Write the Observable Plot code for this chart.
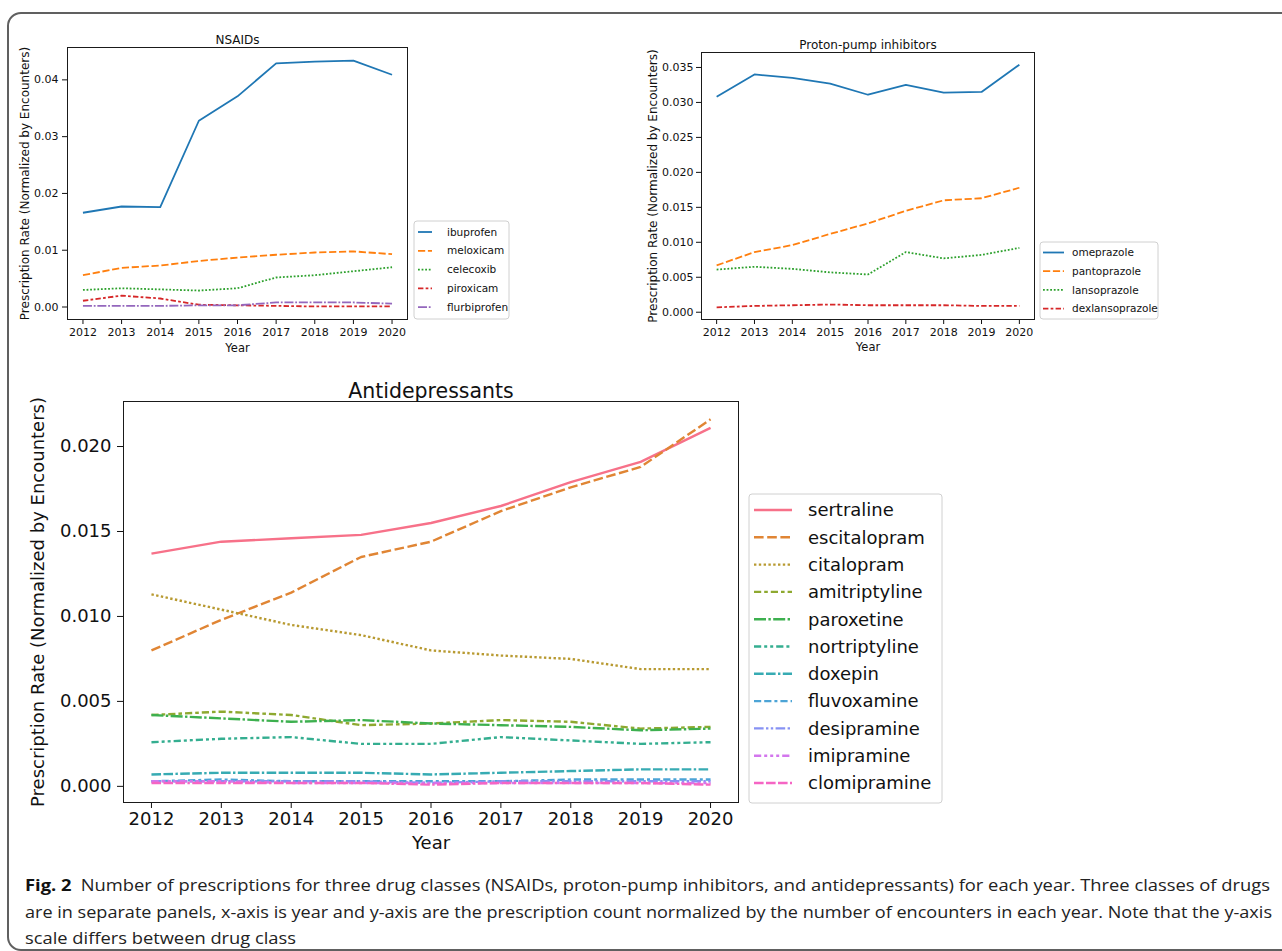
<!DOCTYPE html>
<html>
<head>
<meta charset="utf-8">
<script src="https://cdn.jsdelivr.net/npm/d3@7"></script>
<script src="https://cdn.jsdelivr.net/npm/@observablehq/plot@0.6"></script>
<style>
html, body { margin: 0; padding: 0; background: #fff; }
#page { position: relative; width: 1282px; height: 951px; overflow: hidden; background: #fff; font-family: "DejaVu Sans", sans-serif; }
#border { position: absolute; left: 7px; top: 12px; width: 1300px; height: 939px; border: 2px solid #606060; border-radius: 14px; box-sizing: border-box; }
.panel { position: absolute; }
#overlay { position: absolute; left: 0; top: 0; }
</style>
</head>
<body>
<div id="page"><div id="border"></div></div>
<script>
// ---------- data ----------
const years = [2012, 2013, 2014, 2015, 2016, 2017, 2018, 2019, 2020];

// NSAIDs
const nsaidNames = ["ibuprofen", "meloxicam", "celecoxib", "piroxicam", "flurbiprofen"];
const ibuprofen    = [0.0166, 0.0177, 0.0176, 0.0328, 0.0371, 0.0429, 0.0432, 0.0434, 0.0409];
const meloxicam    = [0.0056, 0.0069, 0.0073, 0.0081, 0.0087, 0.0092, 0.0096, 0.0098, 0.0093];
const celecoxib    = [0.0030, 0.0033, 0.0031, 0.0029, 0.0033, 0.0052, 0.0056, 0.0063, 0.0070];
const piroxicam    = [0.0011, 0.0020, 0.0015, 0.0004, 0.0003, 0.0002, 0.0001, 0.0001, 0.0001];
const flurbiprofen = [0.0002, 0.0002, 0.0002, 0.0003, 0.0003, 0.0008, 0.0008, 0.0008, 0.0006];

// Proton-pump inhibitors
const ppiNames = ["omeprazole", "pantoprazole", "lansoprazole", "dexlansoprazole"];
const omeprazole      = [0.0308, 0.0340, 0.0335, 0.0327, 0.0311, 0.0325, 0.0314, 0.0315, 0.0354];
const pantoprazole    = [0.0067, 0.0086, 0.0096, 0.0112, 0.0127, 0.0145, 0.0160, 0.0163, 0.0178];
const lansoprazole    = [0.0061, 0.0065, 0.0062, 0.0057, 0.0054, 0.0086, 0.0077, 0.0082, 0.0092];
const dexlansoprazole = [0.0007, 0.0009, 0.0010, 0.0011, 0.0010, 0.0010, 0.0010, 0.0009, 0.0009];

// Antidepressants
const adNames = ["sertraline", "escitalopram", "citalopram", "amitriptyline", "paroxetine", "nortriptyline",
                 "doxepin", "fluvoxamine", "desipramine", "imipramine", "clomipramine"];
const sertraline    = [0.0137, 0.0144, 0.0146, 0.0148, 0.0155, 0.0165, 0.0179, 0.0191, 0.0211];
const escitalopram  = [0.0080, 0.0098, 0.0114, 0.0135, 0.0144, 0.0162, 0.0176, 0.0188, 0.0216];
const citalopram    = [0.0113, 0.0104, 0.0095, 0.0089, 0.0080, 0.0077, 0.0075, 0.0069, 0.0069];
const amitriptyline = [0.0042, 0.0044, 0.0042, 0.0036, 0.0037, 0.0039, 0.0038, 0.0034, 0.0035];
const paroxetine    = [0.0042, 0.0040, 0.0038, 0.0039, 0.0037, 0.0036, 0.0035, 0.0033, 0.0034];
const nortriptyline = [0.0026, 0.0028, 0.0029, 0.0025, 0.0025, 0.0029, 0.0027, 0.0025, 0.0026];
const doxepin       = [0.0007, 0.0008, 0.0008, 0.0008, 0.0007, 0.0008, 0.0009, 0.0010, 0.0010];
const fluvoxamine   = [0.0003, 0.0004, 0.0003, 0.0003, 0.0003, 0.0003, 0.0004, 0.0004, 0.0004];
const desipramine   = [0.0003, 0.0003, 0.0003, 0.0003, 0.0002, 0.0003, 0.0003, 0.0003, 0.0003];
const imipramine    = [0.0003, 0.0003, 0.0002, 0.0002, 0.0002, 0.0002, 0.0002, 0.0002, 0.0002];
const clomipramine  = [0.0002, 0.0002, 0.0002, 0.0002, 0.0001, 0.0002, 0.0002, 0.0002, 0.0001];

// tick labels
const nsaidTicks = [0, 0.01, 0.02, 0.03, 0.04];
const ppiTicks = [0, 0.005, 0.01, 0.015, 0.02, 0.025, 0.03, 0.035];
const adTicks = [0, 0.005, 0.01, 0.015, 0.02];

const yLabel = "Prescription Rate (Normalized by Encounters)";
const xLabel = "Year";

// ---------- styles ----------
const tab10 = ["#1f77b4", "#ff7f0e", "#2ca02c", "#d62728", "#9467bd"];
const husl11 = ["#f77189", "#e08534", "#b89a31", "#8ea930", "#3db04f", "#34ae90",
                "#37abb3", "#4ca4d6", "#8792f4", "#d376ed", "#f565c4"];
const dashPatterns = [
  [], [4, 1.5], [1, 1], [3, 1.25, 1.5, 1.25], [5, 1, 1, 1],
  [3, 1.25, 1.25, 1.25, 1.25, 1.25], [4, 1, 4, 1, 1, 1], [3, 1.25, 3, 1.25, 1.25, 1.25],
  [4, 1, 1, 1, 1, 1], [3, 1.25, 1.25, 1.25, 1.25, 1.25, 1.25, 1.25], [4, 1, 4, 1, 4, 1, 1, 1]
];
const dash = (i, lw) => dashPatterns[i].length ? dashPatterns[i].map(d => d * lw).join(",") : "none";

function tidy(names, series) {
  const rows = [];
  names.forEach((n, i) => series[i].forEach((v, j) => rows.push({drug: n, year: years[j], value: v})));
  return rows;
}

function makePanel(cfg) {
  const rows = tidy(cfg.names, cfg.series);
  const marks = [];
  cfg.names.forEach((n, i) => {
    marks.push(Plot.line(rows.filter(r => r.drug === n), {
      x: "year", y: "value", stroke: cfg.colors[i], strokeWidth: cfg.lw,
      strokeDasharray: dash(i, cfg.lw), strokeLinecap: "butt", strokeLinejoin: "round"
    }));
  });
  marks.push(Plot.frame({stroke: "#1a1a1a", strokeWidth: 1}));
  marks.push(Plot.text([cfg.title], {text: d => d, frameAnchor: "top", textAnchor: "middle", dy: cfg.titleDy, fontSize: cfg.titleSize, fill: "#111"}));
  marks.push(Plot.text([xLabel], {text: d => d, frameAnchor: "bottom", textAnchor: "middle", dy: cfg.xLabelDy, fontSize: cfg.labelSize, fill: "#111"}));
  marks.push(Plot.text([yLabel], {text: d => d, frameAnchor: "left", textAnchor: "middle", lineAnchor: "middle", rotate: -90, dx: cfg.yLabelDx, fontSize: cfg.yLabelSize, fill: "#111"}));
  const svg = Plot.plot({
    width: cfg.width, height: cfg.height,
    marginLeft: cfg.ml, marginRight: cfg.mr, marginTop: cfg.mt, marginBottom: cfg.mb,
    style: {fontFamily: "DejaVu Sans", fontSize: cfg.tickSize + "px", color: "#111", background: "transparent", overflow: "visible"},
    x: {domain: [2011.6, 2020.4], ticks: years, tickFormat: d => String(d), tickSize: cfg.tk, tickPadding: cfg.xPad, label: null},
    y: {domain: cfg.yDomain, ticks: cfg.yTicks, tickFormat: d3.format(cfg.yFmt), tickSize: cfg.tk, tickPadding: cfg.yPad, label: null},
    marks
  });
  const div = document.createElement("div");
  div.className = "panel";
  div.style.left = cfg.left + "px";
  div.style.top = cfg.top + "px";
  div.appendChild(svg);
  document.getElementById("page").appendChild(div);
}

makePanel({
  left: 0, top: 0, width: 600, height: 365, ml: 67, mr: 193, mt: 47, mb: 46,
  names: nsaidNames, series: [ibuprofen, meloxicam, celecoxib, piroxicam, flurbiprofen],
  colors: tab10, lw: 1.8, yDomain: [-0.0022, 0.0457], yTicks: nsaidTicks, yFmt: ".2f",
  title: "NSAIDs", titleDy: -12, titleSize: 12, xLabelDy: 32, labelSize: 11.5, yLabelDx: -42, yLabelSize: 12,
  tickSize: 11, tk: 5, xPad: 4, yPad: 4
});

makePanel({
  left: 600, top: 0, width: 682, height: 365, ml: 101, mr: 248, mt: 52, mb: 46,
  names: ppiNames, series: [omeprazole, pantoprazole, lansoprazole, dexlansoprazole],
  colors: tab10, lw: 1.8, yDomain: [-0.00104, 0.03714], yTicks: ppiTicks, yFmt: ".3f",
  title: "Proton-pump inhibitors", titleDy: -12, titleSize: 12, xLabelDy: 31, labelSize: 11.5, yLabelDx: -48, yLabelSize: 12,
  tickSize: 11, tk: 5, xPad: 4, yPad: 3
});

makePanel({
  left: 0, top: 365, width: 760, height: 500, ml: 123, mr: 22, mt: 36, mb: 63,
  names: adNames,
  series: [sertraline, escitalopram, citalopram, amitriptyline, paroxetine, nortriptyline,
           doxepin, fluvoxamine, desipramine, imipramine, clomipramine],
  colors: husl11, lw: 2.4, yDomain: [-0.00095, 0.02265], yTicks: adTicks, yFmt: ".3f",
  title: "Antidepressants", titleDy: -18, titleSize: 20.5, xLabelDy: 46, labelSize: 18, yLabelDx: -85, yLabelSize: 18,
  tickSize: 18, tk: 6, xPad: 4, yPad: 6
});

// ---------- legends & caption overlay ----------
const overlay = d3.select("#page").append("svg")
  .attr("id", "overlay").attr("width", 1282).attr("height", 951)
  .style("font-family", "DejaVu Sans");

function legend(cfg) {
  overlay.append("rect").attr("x", cfg.x).attr("y", cfg.y).attr("width", cfg.w).attr("height", cfg.h)
    .attr("rx", 3).attr("fill", "#fff").attr("stroke", "#d0d0d0").attr("stroke-width", 1);
  cfg.names.forEach((n, i) => {
    const y = cfg.y0 + i * cfg.step;
    overlay.append("line").attr("x1", cfg.s0).attr("x2", cfg.s1).attr("y1", y).attr("y2", y)
      .attr("stroke", cfg.colors[i]).attr("stroke-width", cfg.lw)
      .attr("stroke-dasharray", dash(i, cfg.lw));
    overlay.append("text").attr("x", cfg.tx).attr("y", y).attr("dy", "0.35em")
      .attr("font-size", cfg.fs).attr("fill", "#111").text(n);
  });
}

legend({x: 414, y: 221, w: 95, h: 98, names: nsaidNames, colors: tab10, lw: 1.8,
        y0: 232, step: 18.8, s0: 418, s1: 432, tx: 447, fs: 10.5});
legend({x: 1040, y: 242, w: 118, h: 77, names: ppiNames, colors: tab10, lw: 1.8,
        y0: 252.5, step: 18.7, s0: 1043, s1: 1064, tx: 1072, fs: 10.5});
legend({x: 749, y: 494, w: 193, h: 309, names: adNames, colors: husl11, lw: 2.4,
        y0: 510, step: 27.3, s0: 754, s1: 792, tx: 808, fs: 18});

// caption
const captionLines = [
  "Number of prescriptions for three drug classes (NSAIDs, proton-pump inhibitors, and antidepressants) for each year. Three classes of drugs",
  "are in separate panels, x-axis is year and y-axis are the prescription count normalized by the number of encounters in each year. Note that the y-axis",
  "scale differs between drug class"
];
const cap = overlay.append("g").style("font-family", "'Open Sans', sans-serif").attr("font-size", 16.5).attr("fill", "#222");
const t1 = cap.append("text").attr("x", 25).attr("y", 891).attr("textLength", 1245).attr("lengthAdjust", "spacingAndGlyphs");
t1.append("tspan").attr("font-weight", "bold").attr("fill", "#111").text("Fig. 2");
t1.append("tspan").text("\u2002" + captionLines[0]);
cap.append("text").attr("x", 25).attr("y", 918).attr("textLength", 1247).attr("lengthAdjust", "spacingAndGlyphs").text(captionLines[1]);
cap.append("text").attr("x", 25).attr("y", 944).attr("textLength", 271).attr("lengthAdjust", "spacingAndGlyphs").text(captionLines[2]);
</script>
</body>
</html>
